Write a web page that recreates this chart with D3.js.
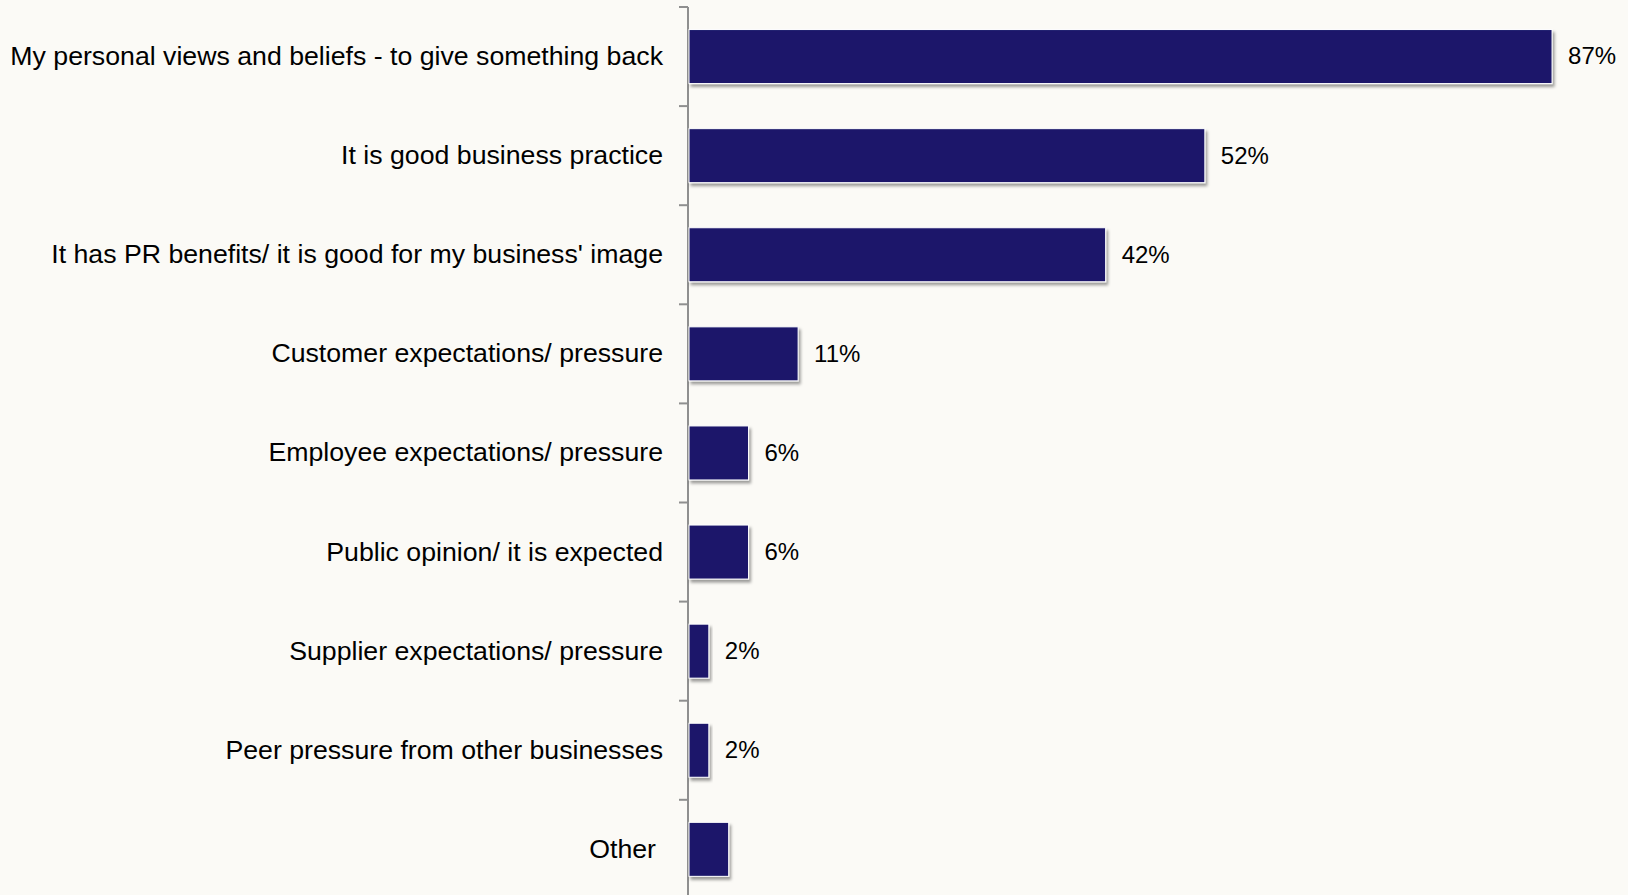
<!DOCTYPE html>
<html>
<head>
<meta charset="utf-8">
<script src="https://cdn.jsdelivr.net/npm/d3@7"></script>
<style>
  html, body { margin: 0; padding: 0; background: #fbfaf6; }
  svg { display: block; }
  text { font-family: "Liberation Sans", Arial, sans-serif; }
</style>
</head>
<body>
<svg id="chart" width="1628" height="895"></svg>
<script>
// Reasons for giving, share of respondents (%)
const categories = [
  "My personal views and beliefs - to give something back",
  "It is good business practice",
  "It has PR benefits/ it is good for my business' image",
  "Customer expectations/ pressure",
  "Employee expectations/ pressure",
  "Public opinion/ it is expected",
  "Supplier expectations/ pressure",
  "Peer pressure from other businesses",
  "Other"
];
const values = [87, 52, 42, 11, 6, 6, 2, 2, 4];
const valueLabels = ["87%", "52%", "42%", "11%", "6%", "6%", "2%", "2%", ""];

const width = 1628, height = 895;
const margin = { top: 7, left: 689 };
const bandStep = 99.1;

const svg = d3.select("#chart");

const defs = svg.append("defs");
const shadow = defs.append("filter").attr("id", "barShadow")
  .attr("x", "-10%").attr("y", "-20%").attr("width", "130%").attr("height", "160%");
shadow.append("feDropShadow")
  .attr("dx", 2).attr("dy", 3).attr("stdDeviation", 1.6)
  .attr("flood-color", "#000").attr("flood-opacity", 0.38);

const x = d3.scaleLinear().domain([0, 100]).range([margin.left, margin.left + 992]);
const y = d3.scaleBand()
  .domain(categories)
  .range([margin.top, margin.top + bandStep * categories.length])
  .paddingInner(0.455).paddingOuter(0.2275);

// category axis with ticks between bands
const axisG = svg.append("g");
axisG.append("line")
  .attr("x1", margin.left - 1).attr("x2", margin.left - 1)
  .attr("y1", margin.top).attr("y2", height)
  .attr("stroke", "#8f8f8f").attr("stroke-width", 2);
const tickYs = d3.range(categories.length + 1).map(i => margin.top + i * bandStep);
axisG.selectAll("line.tick").data(tickYs).join("line")
  .attr("class", "tick")
  .attr("x1", margin.left - 10).attr("x2", margin.left - 1)
  .attr("y1", d => d).attr("y2", d => d)
  .attr("stroke", "#8f8f8f").attr("stroke-width", 2);

// bars
svg.append("g").selectAll("rect").data(categories).join("rect")
  .attr("x", x(0))
  .attr("y", d => y(d))
  .attr("width", (d, i) => x(values[i]) - x(0))
  .attr("height", y.bandwidth())
  .attr("fill", "#1b196b")
  .attr("stroke", "#ffffff")
  .attr("stroke-width", 1)
  .attr("filter", "url(#barShadow)");

// category labels
svg.append("g").selectAll("text").data(categories).join("text")
  .attr("x", (d, i) => i === categories.length - 1 ? margin.left - 33 : margin.left - 26)
  .attr("y", d => y(d) + y.bandwidth() / 2)
  .attr("dy", "0.32em")
  .attr("text-anchor", "end")
  .attr("font-size", 26.7)
  .attr("fill", "#000")
  .text(d => d);

// value labels
svg.append("g").selectAll("text").data(categories).join("text")
  .attr("x", (d, i) => x(values[i]) + 16)
  .attr("y", d => y(d) + y.bandwidth() / 2)
  .attr("dy", "0.33em")
  .attr("font-size", 24)
  .attr("fill", "#000")
  .text((d, i) => valueLabels[i]);
</script>
</body>
</html>
